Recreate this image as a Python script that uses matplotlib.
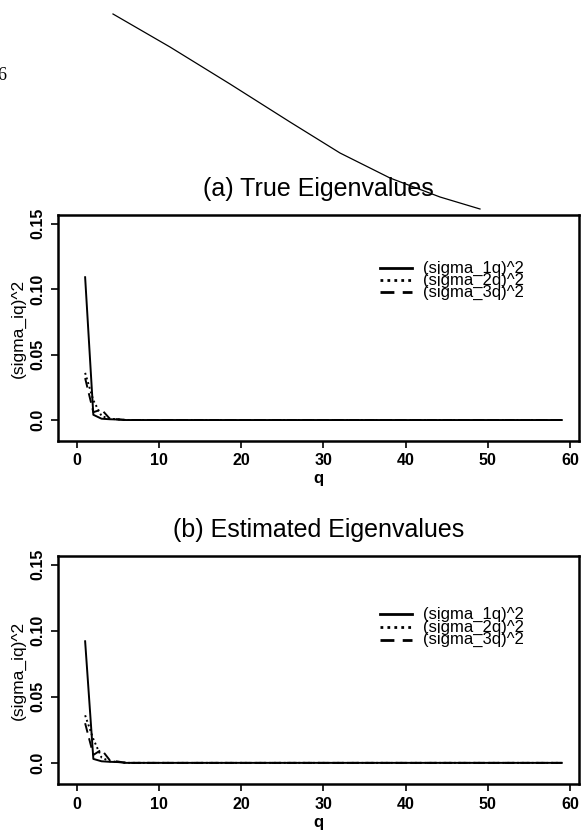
import matplotlib
matplotlib.use('Agg')
import matplotlib.pyplot as plt
from matplotlib.lines import Line2D

plt.rcParams['font.family'] = ['Liberation Sans', 'DejaVu Sans']

# q = 1..59
q = list(range(1, 60))

# (a) true eigenvalues
true_1 = [0.109, 0.004, 0.001, 0.0006, 0.0004] + [0.0] * 54
true_2 = [0.036, 0.015, 0.003, 0.001, 0.0005] + [0.0] * 54
true_3 = [0.032, 0.006, 0.008, 0.001, 0.0005] + [0.0] * 54

# (b) estimated eigenvalues
est_1 = [0.092, 0.003, 0.0012, 0.0008, 0.0006] + [0.0] * 54
est_2 = [0.036, 0.018, 0.004, 0.0012, 0.0008] + [0.0] * 54
est_3 = [0.030, 0.006, 0.010, 0.002, 0.001] + [0.0] * 54

labels = ['(sigma_1q)^2', '(sigma_2q)^2', '(sigma_3q)^2']
styles = ['-', (0, (1, 1.5)), (0, (5, 3))]
titles = ['(a) True Eigenvalues', '(b) Estimated Eigenvalues']
yticks = [0.0, 0.05, 0.10, 0.15]
ytick_labels = ['0.0', '0.05', '0.10', '0.15']
xticks = [0, 10, 20, 30, 40, 50, 60]

fig = plt.figure(figsize=(5.83, 8.33), dpi=100)

ax_a = fig.add_axes([0.0995, 0.4706, 0.8937, 0.2713])
ax_b = fig.add_axes([0.0995, 0.0588, 0.8937, 0.2737])

panels = [(ax_a, [true_1, true_2, true_3], [0.765, 0.712, 0.659]),
          (ax_b, [est_1, est_2, est_3], [0.746, 0.689, 0.632])]

for i, (ax, series, leg_y) in enumerate(panels):
    for vals, ls in zip(series, styles):
        ax.plot(q, vals, color='black', linestyle=ls, linewidth=1.4)

    ax.set_xlim(-2.3, 61.1)
    ax.set_ylim(-0.016, 0.1565)
    ax.set_xticks(xticks)
    ax.set_yticks(yticks)
    ax.set_yticklabels(ytick_labels, rotation=90, va='center')
    ax.tick_params(direction='out', length=5, width=1.2, pad=4,
                   labelsize=11.5)
    for lab in ax.get_xticklabels() + ax.get_yticklabels():
        lab.set_fontweight('bold')
    for sp in ax.spines.values():
        sp.set_linewidth(1.8)

    ax.set_xlabel('q', fontsize=12, fontweight='bold')
    ax.xaxis.set_label_coords(0.5, -0.135)
    ax.set_ylabel('(sigma_iq)^2', fontsize=12.5)
    ax.yaxis.set_label_coords(-0.062, 0.5)
    ax.set_title(titles[i], fontsize=18, pad=14)

    # legend drawn by hand, rows packed tight like the original
    for ls, lab, y in zip(styles, labels, leg_y):
        ax.add_line(Line2D([0.618, 0.679], [y, y], transform=ax.transAxes,
                           color='black', linestyle=ls, linewidth=2.0))
        ax.text(0.700, y, lab, transform=ax.transAxes, fontsize=12,
                va='center', ha='left')

# stray pen stroke and page number fragment on the scanned page
stroke_x = [113, 170, 230, 290, 340, 390, 440, 480]
stroke_y = [14, 47, 84, 122, 153, 178, 197, 209]
fig.add_artist(Line2D([x / 583 for x in stroke_x],
                      [1 - y / 833 for y in stroke_y],
                      transform=fig.transFigure, color='black', linewidth=0.9))
fig.text(-0.004, 1 - 75 / 833, '6', fontsize=13, family='Liberation Serif',
         va='center', ha='left')

fig.savefig('out.png', dpi=100)
